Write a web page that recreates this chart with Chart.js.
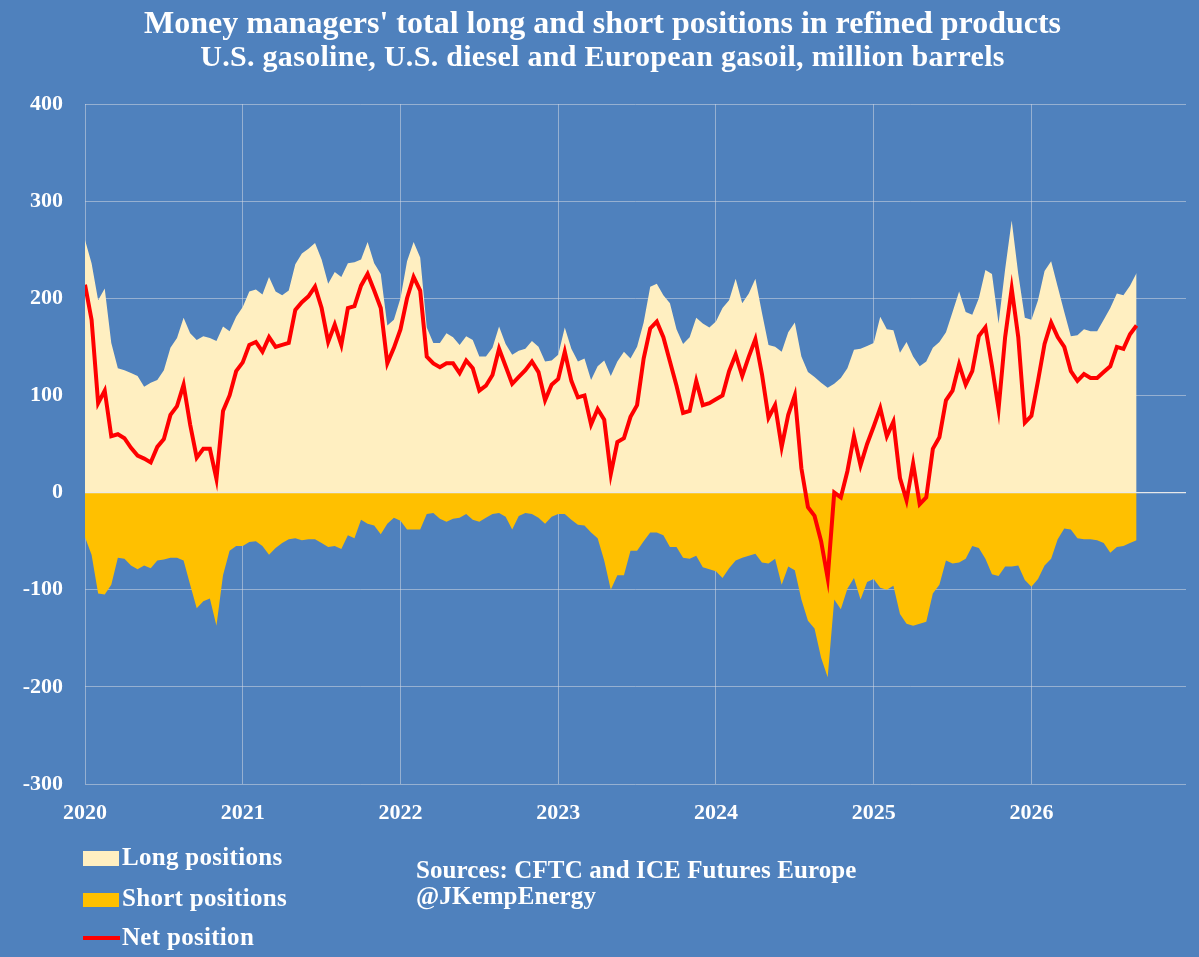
<!DOCTYPE html>
<html>
<head>
<meta charset="utf-8">
<script src="https://cdn.jsdelivr.net/npm/chart.js@4"></script>
<style>
  html, body { margin: 0; padding: 0; }
  body { width: 1199px; height: 957px; background: #4F81BD; overflow: hidden; position: relative;
         font-family: "Liberation Serif", "DejaVu Serif", serif; font-weight: bold; color: #fff; }
  #chart { position: absolute; left: 0; top: 0; }
  .title { position: absolute; left: 3px; width: 1199px; text-align: center; line-height: 35px; }
  .t1 { top: 5px; font-size: 32px; }
  .t2 { top: 38px; font-size: 30px; letter-spacing: 0.3px; }
  .txt { position: absolute; font-size: 25px; line-height: 25px; white-space: nowrap; letter-spacing: 0.3px; }
  .sw { position: absolute; }
</style>
</head>
<body>
<canvas id="chart" width="1199" height="957"></canvas>
<div class="title t1">Money managers' total long and short positions in refined products</div>
<div class="title t2">U.S. gasoline, U.S. diesel and European gasoil, million barrels</div>

<div class="sw" style="left:83px;top:851px;width:36px;height:15px;background:#FFEFC1"></div>
<div class="txt" style="left:122px;top:844px">Long positions</div>
<div class="sw" style="left:83px;top:893px;width:36px;height:14px;background:#FFC000"></div>
<div class="txt" style="left:122px;top:885px">Short positions</div>
<div class="sw" style="left:83px;top:936px;width:37px;height:4px;background:#FF0000"></div>
<div class="txt" style="left:122px;top:924px">Net position</div>

<div class="txt" style="left:416px;top:857px;line-height:26px;letter-spacing:0.1px">Sources: CFTC and ICE Futures Europe<br>@JKempEnergy</div>

<script>
// half-monthly readings, starting Jan 2020
const startYear = 2020;
const stepsPerYear = 24;

const longPos = [
  260, 236, 198, 210, 154, 128, 126, 123, 120, 109,
  113, 116, 126, 149, 159, 180, 164, 157, 161, 159,
  156, 171, 166, 181, 191, 207, 209, 204, 222, 207,
  203, 208, 235, 246, 251, 257, 240, 215, 227, 222,
  236, 237, 240, 258, 236, 225, 172, 178, 200, 238,
  258, 242, 170, 154, 154, 164, 160, 152, 161, 157,
  140, 140, 149, 171, 153, 142, 146, 148, 156, 150,
  135, 136, 142, 170, 148, 135, 138, 116, 130, 136,
  120, 135, 145, 138, 150, 175, 212, 215, 203, 195,
  168, 153, 160, 180, 174, 170, 176, 190, 198, 220,
  195, 205, 220, 185, 152, 150, 145, 165, 175, 140,
  124, 119, 113, 108, 112, 118, 128, 147, 148, 151,
  154, 181, 168, 167, 144, 155, 140, 130, 135, 149,
  155, 165, 186, 207, 186, 183, 200, 229, 225, 174,
  230, 280, 225, 180, 178, 198, 228, 238, 212, 186,
  161, 162, 168, 166, 166, 178, 190, 205, 203, 213,
  226
];

const shortPos = [
  -46, -64, -104, -105, -95, -67, -68, -75, -79, -75,
  -78, -70, -69, -67, -67, -70, -95, -119, -112, -109,
  -137, -85, -60, -55, -55, -51, -50, -55, -64, -57,
  -52, -48, -47, -49, -48, -48, -52, -56, -55, -58,
  -44, -47, -28, -32, -34, -43, -32, -26, -29, -38,
  -38, -38, -22, -21, -27, -30, -27, -26, -22, -28,
  -30, -26, -22, -21, -25, -38, -24, -21, -22, -26,
  -32, -25, -22, -22, -28, -33, -34, -41, -47, -70,
  -100, -85, -85, -60, -60, -50, -41, -41, -44, -56,
  -56, -67, -68, -65, -77, -79, -81, -88, -78, -70,
  -67, -65, -63, -72, -73, -68, -95, -76, -80, -110,
  -132, -140, -170, -190, -110, -120, -99, -88, -110, -92,
  -89, -98, -100, -96, -125, -135, -137, -135, -133, -104,
  -95, -70, -73, -72, -68, -55, -57, -68, -84, -86,
  -76, -76, -75, -90, -97, -89, -75, -68, -48, -37,
  -38, -47, -48, -48, -49, -52, -62, -56, -55, -52,
  -49
];

const netPos = [
  214, 178, 92, 105, 58, 60, 56, 46, 38, 35,
  31, 47, 55, 80, 89, 111, 70, 36, 45, 45,
  14, 84, 100, 125, 134, 152, 155, 145, 160, 150,
  152, 154, 188, 196, 202, 212, 190, 155, 173, 152,
  190, 192, 213, 225, 208, 190, 133, 149, 168, 200,
  222, 208, 140, 133, 129, 133, 133, 123, 136, 128,
  105, 110, 121, 148, 130, 112, 119, 126, 135, 124,
  95, 111, 117, 145, 115, 98, 100, 70, 86, 75,
  19, 52, 56, 78, 90, 138, 169, 176, 160, 135,
  110, 82, 84, 115, 90, 92, 96, 100, 125, 142,
  120, 140, 158, 122, 77, 90, 47, 80, 100, 25,
  -15, -24, -50, -88, 0, -5, 22, 58, 28, 50,
  68, 87, 58, 73, 15, -8, 30, -12, -5, 45,
  57, 95, 105, 132, 111, 125, 161, 170, 130, 86,
  160, 210, 160, 72, 79, 115, 153, 175, 160, 150,
  125, 115, 122, 118, 118, 124, 130, 150, 148, 163,
  172
];

const yearTicks = [2020, 2021, 2022, 2023, 2024, 2025, 2026];
const yTicks = [400, 300, 200, 100, 0, -100, -200, -300];

const dates = longPos.map((_, i) => startYear + i / stepsPerYear);
const toPoints = (arr) => arr.map((v, i) => ({ x: dates[i], y: v }));

const gridColor = 'rgba(210,215,225,0.55)';
const tickFont = { family: '"Liberation Serif", serif', size: 22, weight: 'bold' };

// light zero axis drawn over the two areas, under the net line
const zeroLine = {
  id: 'zeroLine',
  afterDatasetDraw(chart, args) {
    if (args.index !== 1) return;
    const { ctx, chartArea } = chart;
    const y0 = chart.scales.y.getPixelForValue(0);
    ctx.save();
    ctx.strokeStyle = 'rgba(235,235,235,0.95)';
    ctx.lineWidth = 1.2;
    ctx.beginPath();
    ctx.moveTo(chartArea.left, y0);
    ctx.lineTo(chartArea.right, y0);
    ctx.stroke();
    ctx.restore();
  }
};

new Chart(document.getElementById('chart').getContext('2d'), {
  type: 'line',
  data: {
    datasets: [
      {
        label: 'Net position',
        data: toPoints(netPos),
        borderColor: '#FF0000',
        borderWidth: 4,
        pointRadius: 0,
        fill: false,
        tension: 0
      },
      {
        label: 'Long positions',
        data: toPoints(longPos),
        backgroundColor: '#FFEFC1',
        borderWidth: 0,
        pointRadius: 0,
        fill: 'origin',
        tension: 0
      },
      {
        label: 'Short positions',
        data: toPoints(shortPos),
        backgroundColor: '#FFC000',
        borderWidth: 0,
        pointRadius: 0,
        fill: 'origin',
        tension: 0
      }
    ]
  },
  options: {
    responsive: false,
    animation: false,
    layout: { padding: { left: 0, right: 13, top: 104, bottom: 0 } },
    plugins: {
      legend: { display: false },
      tooltip: { enabled: false }
    },
    scales: {
      x: {
        type: 'linear',
        min: 2020,
        max: 2026.98,
        afterBuildTicks(axis) { axis.ticks = yearTicks.map(v => ({ value: v })); },
        afterFit(scale) { scale.height = 173; },
        ticks: {
          color: '#fff',
          font: tickFont,
          padding: 16,
          maxRotation: 0,
          autoSkip: false,
          callback: (v) => String(v)
        },
        grid: { color: gridColor, lineWidth: 1, drawTicks: false },
        border: { display: false }
      },
      y: {
        min: -300,
        max: 400,
        afterBuildTicks(axis) { axis.ticks = yTicks.map(v => ({ value: v })); },
        afterFit(scale) { scale.width = 85; },
        ticks: {
          color: '#fff',
          font: tickFont,
          padding: 22
        },
        grid: { color: gridColor, lineWidth: 1, drawTicks: false },
        border: { display: false }
      }
    }
  },
  plugins: [zeroLine]
});
</script>
</body>
</html>
